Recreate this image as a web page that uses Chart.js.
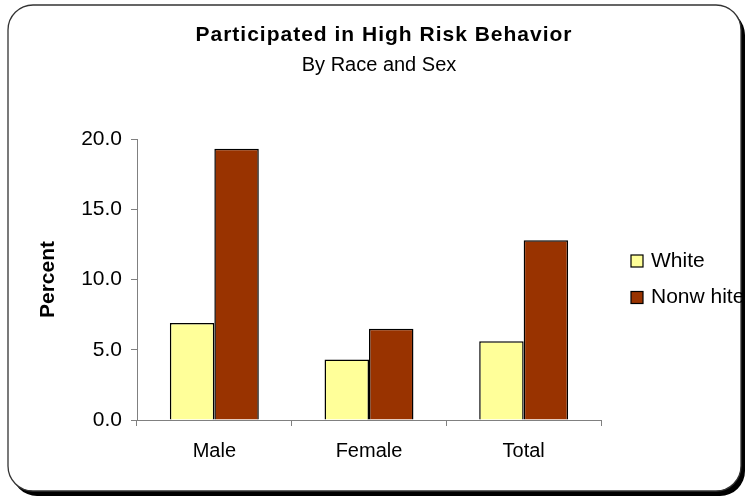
<!DOCTYPE html>
<html>
<head>
<meta charset="utf-8">
<script src="https://cdn.jsdelivr.net/npm/chart.js@4/dist/chart.umd.min.js"></script>
<style>
  body { margin: 0; background: #fff; }
  canvas { display: block; }
</style>
</head>
<body>
<canvas id="plot" width="748" height="499"></canvas>
<script>
const categories = ['Male', 'Female', 'Total'];
const seriesNames = ['White', 'Nonw hite'];
const whiteValues = [6.9, 4.3, 5.6];
const nonwhiteValues = [19.3, 6.5, 12.8];
const yTicks = [0, 5, 10, 15, 20];

const FONT = "Arial, 'Liberation Sans', sans-serif";

// rounded frame with a dark drop shadow, like the old spreadsheet chart
const framePlugin = {
  id: 'frame',
  beforeDraw(chart) {
    const ctx = chart.ctx;
    const x = 8, y = 5, w = 733, h = 486, r = 25;
    ctx.save();
    ctx.fillStyle = '#000';
    ctx.beginPath();
    ctx.roundRect(x + 4, y + 5, w, h, r);
    ctx.fill();
    ctx.fillStyle = '#fff';
    ctx.beginPath();
    ctx.roundRect(x, y, w, h, r);
    ctx.fill();
    ctx.strokeStyle = '#333';
    ctx.lineWidth = 1.3;
    ctx.stroke();
    ctx.restore();
  }
};

// title, subtitle and legend drawn at fixed spots
const textPlugin = {
  id: 'texts',
  afterDraw(chart) {
    const ctx = chart.ctx;
    ctx.save();
    ctx.fillStyle = '#000';
    ctx.textAlign = 'center';
    ctx.textBaseline = 'middle';
    ctx.font = 'bold 21px ' + FONT;
    ctx.letterSpacing = '1px';
    ctx.fillText('Participated in High Risk Behavior', 384, 35);
    ctx.letterSpacing = '0px';
    ctx.font = '20px ' + FONT;
    ctx.fillText('By Race and Sex', 379, 65);

    ctx.textAlign = 'left';
    chart.data.datasets.forEach((ds, i) => {
      const cy = 261 + i * 36.5;
      ctx.fillStyle = ds.backgroundColor;
      ctx.fillRect(631, cy - 6, 12, 12);
      ctx.strokeStyle = '#000';
      ctx.lineWidth = 1.2;
      ctx.strokeRect(631, cy - 6, 12, 12);
      ctx.fillStyle = '#000';
      ctx.font = '21px ' + FONT;
      ctx.fillText(ds.label, 651, cy);
    });
    ctx.restore();
  }
};

const data = {
  labels: categories,
  datasets: [{
    label: seriesNames[0],
    data: whiteValues,
    backgroundColor: '#FFFF99',
    borderColor: '#000',
    borderWidth: 1.5,
    barPercentage: 1.0,
    categoryPercentage: 0.575
  }, {
    label: seriesNames[1],
    data: nonwhiteValues,
    backgroundColor: '#993300',
    borderColor: '#000',
    borderWidth: 1.5,
    barPercentage: 1.0,
    categoryPercentage: 0.575
  }]
};

const config = {
  type: 'bar',
  data: data,
  options: {
    responsive: false,
    animation: false,
    layout: { padding: { top: 139, right: 147, bottom: 0, left: 0 } },
    plugins: {
      legend: { display: false },
      tooltip: { enabled: false }
    },
    scales: {
      x: {
        grid: { drawOnChartArea: false, drawTicks: true, tickLength: 6, color: '#808080', offset: true },
        border: { color: '#808080', width: 1 },
        ticks: { color: '#000', font: { family: FONT, size: 20 }, padding: 13, maxRotation: 0 },
        afterFit(scale) { scale.height = 79; }
      },
      y: {
        min: 0,
        max: 20,
        afterBuildTicks(scale) { scale.ticks = yTicks.map(v => ({ value: v })); },
        grid: { drawOnChartArea: false, drawTicks: true, tickLength: 6, color: '#808080' },
        border: { color: '#808080', width: 1 },
        ticks: {
          color: '#000',
          font: { family: FONT, size: 21 },
          padding: 9,
          callback: v => Number(v).toFixed(1)
        },
        title: {
          display: true,
          text: 'Percent',
          color: '#000',
          font: { family: FONT, size: 21, weight: 'bold' },
          padding: { top: 36, bottom: 0 }
        },
        afterFit(scale) { scale.width = 137; }
      }
    }
  },
  plugins: [framePlugin, textPlugin]
};

let ctx = document.getElementById('plot').getContext('2d');
let chart = new Chart(ctx, config);
</script>
</body>
</html>
